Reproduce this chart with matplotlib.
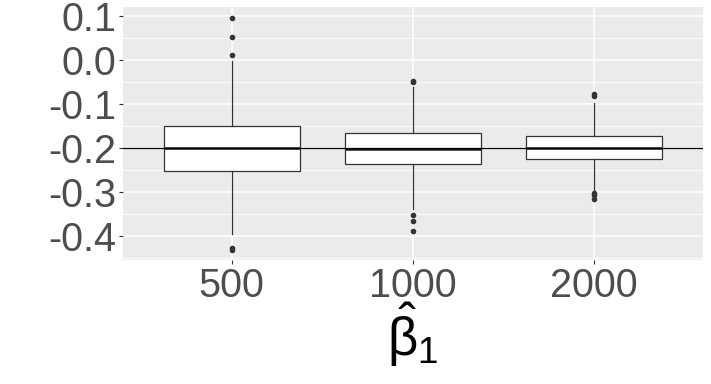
"""
Boxplots of the beta_1 estimates for three sample sizes
"""

import matplotlib
import matplotlib.pyplot as plt

matplotlib.use("Agg")

# categories and box statistics
sample_sizes = ["500", "1000", "2000"]
q1 = [-0.253, -0.237, -0.226]
medians = [-0.1995, -0.2015, -0.1995]
q3 = [-0.1507, -0.1666, -0.1734]
whisker_low = [-0.395, -0.339, -0.296]
whisker_high = [-0.002, -0.061, -0.098]
outliers = [
    [0.096, 0.053, 0.012, -0.428, -0.431],
    [-0.048, -0.050, -0.352, -0.365, -0.388],
    [-0.078, -0.082, -0.303, -0.307, -0.316],
]
true_value = -0.2
y_ticks = [0.1, 0.0, -0.1, -0.2, -0.3, -0.4]
y_tick_labels = ["0.1", "0.0", "-0.1", "-0.2", "-0.3", "-0.4"]
y_minor = [0.05, -0.05, -0.15, -0.25, -0.35, -0.45]

plt.rcParams["font.family"] = ["Liberation Sans", "DejaVu Sans"]
plt.rcParams["mathtext.fontset"] = "custom"
plt.rcParams["mathtext.rm"] = "Liberation Sans"
plt.rcParams["mathtext.it"] = "Liberation Sans"
plt.rcParams["mathtext.default"] = "regular"


def build_stats():
    """
    Returns the list of stat dicts that bxp expects
    """
    stats = []
    for i, name in enumerate(sample_sizes):
        stats.append(
            {
                "label": name,
                "q1": q1[i],
                "med": medians[i],
                "q3": q3[i],
                "whislo": whisker_low[i],
                "whishi": whisker_high[i],
                "fliers": outliers[i],
            }
        )
    return stats


def main():
    fig = plt.figure(figsize=(7.11, 3.84), dpi=100)
    ax = fig.add_axes([123 / 711, 1 - 260 / 384, 580 / 711, 253 / 384])
    ax.set_facecolor("#EBEBEB")
    for side in ax.spines.values():
        side.set_visible(False)

    # grid lines drawn by hand in ggplot style
    for y in y_ticks:
        ax.axhline(y, color="white", lw=1.1, zorder=0)
    for y in y_minor:
        ax.axhline(y, color="white", lw=0.6, zorder=0)
    for x in range(1, len(sample_sizes) + 1):
        ax.axvline(x, color="white", lw=1.1, zorder=0)

    line = {"color": "#333333", "linewidth": 0.9}
    ax.bxp(
        build_stats(),
        positions=range(1, len(sample_sizes) + 1),
        widths=0.75,
        patch_artist=True,
        boxprops={"facecolor": "white", "edgecolor": "#333333", "linewidth": 0.9},
        medianprops={"color": "#1a1a1a", "linewidth": 1.8},
        whiskerprops=line,
        capprops={"linewidth": 0},
        flierprops={
            "marker": "o",
            "markersize": 3,
            "markerfacecolor": "#333333",
            "markeredgecolor": "#333333",
        },
        zorder=2,
    )

    ax.axhline(true_value, color="black", lw=0.9, zorder=3)

    ax.set_xlim(0.4, 3.6)
    ax.set_ylim(-0.4545, 0.1205)
    ax.set_xticks(range(1, len(sample_sizes) + 1))
    ax.set_xticklabels(sample_sizes)
    ax.set_yticks(y_ticks)
    ax.set_yticklabels(y_tick_labels)
    ax.tick_params(
        axis="both",
        length=3,
        width=0.8,
        color="#333333",
        labelcolor="#4D4D4D",
        labelsize=28.5,
        pad=2,
    )
    ax.set_xlabel(r"$\hat{\beta}_1$", fontsize=38, color="black", labelpad=-3)

    fig.savefig("out.png", dpi=100)


if __name__ == "__main__":
    main()
